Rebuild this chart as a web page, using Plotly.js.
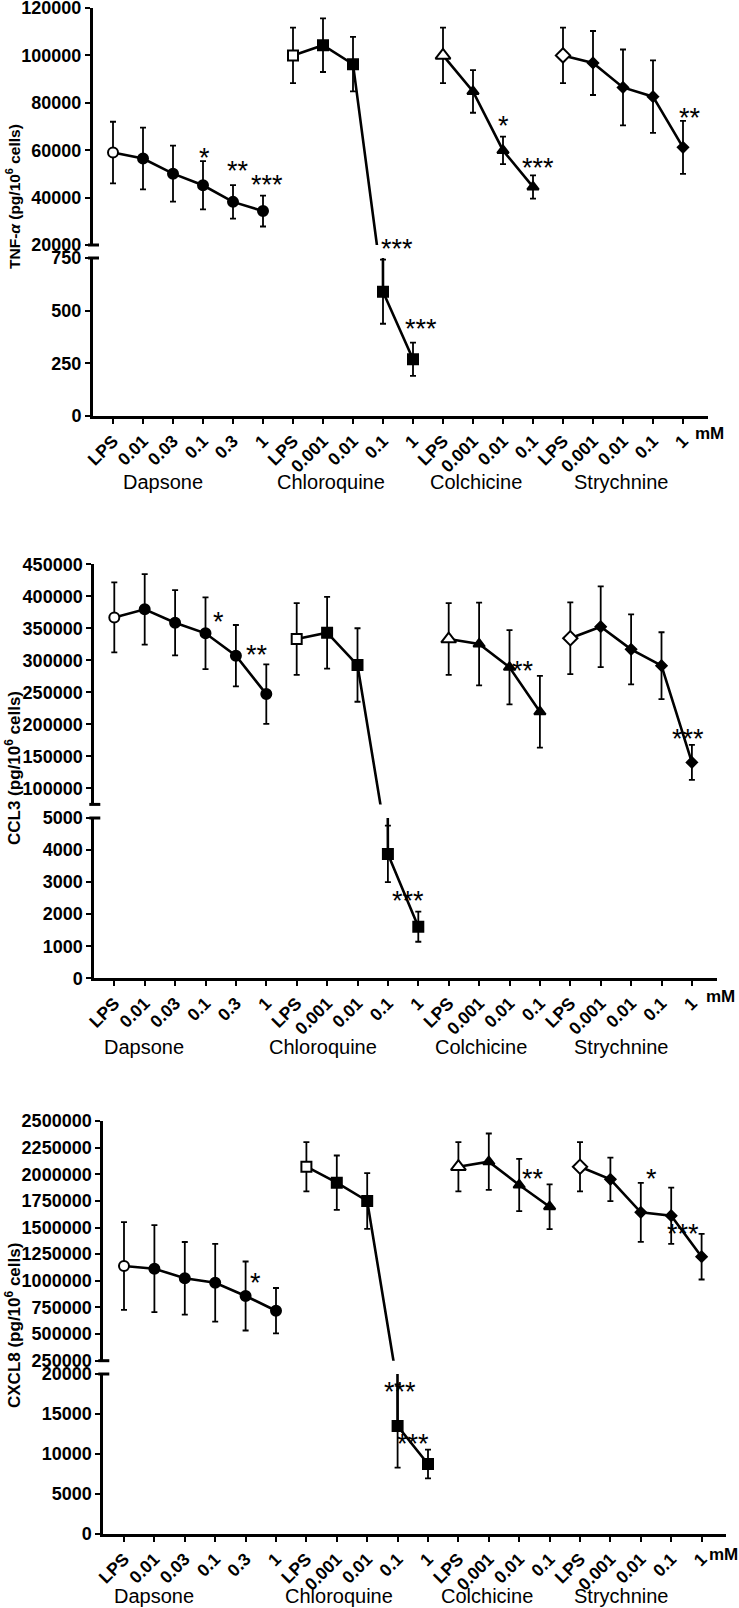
<!DOCTYPE html>
<html><head><meta charset="utf-8">
<script src="https://cdn.plot.ly/plotly-3.0.1.min.js"></script>
<style>html,body{margin:0;padding:0;background:#fff}#chart{width:739px;height:1608px}</style>
</head><body><div id="chart"></div>
<script>
// ---------- DATA ----------
const categories = ['LPS','0.01','0.03','0.1','0.3','1',
                    'LPS','0.001','0.01','0.1','1',
                    'LPS','0.001','0.01','0.1',
                    'LPS','0.001','0.01','0.1','1'];
const drugs = ['Dapsone','Chloroquine','Colchicine','Strychnine'];
const groupSizes = [6,5,4,5];

// TNF-alpha (pg/10^6 cells)
const tnfDapsone = [59000,56500,50100,45200,38200,34300];
const tnfDapsoneErr = [13000,13000,11800,10200,7100,6500];
const tnfChloroquine = [100000,104300,96300,590,269];
const tnfChloroquineErr = [11700,11300,11500,152,79];
const tnfColchicine = [100000,84800,59900,44500];
const tnfColchicineErr = [11700,9000,5800,4900];
const tnfStrychnine = [100000,96800,86500,82600,61200];
const tnfStrychnineErr = [11700,13500,16000,15300,11200];

// CCL3 (pg/10^6 cells)
const ccl3Dapsone = [367000,379700,358800,342200,307200,247300];
const ccl3DapsoneErr = [54700,55000,51000,56000,48000,46500];
const ccl3Chloroquine = [333300,343200,292700,3880,1610];
const ccl3ChloroquineErr = [56000,56000,57400,880,470];
const ccl3Colchicine = [333300,325500,289100,219700];
const ccl3ColchicineErr = [56000,64500,58000,56000];
const ccl3Strychnine = [334400,352500,317200,291600,140600];
const ccl3StrychnineErr = [56000,63000,54700,52300,27300];

// CXCL8 (pg/10^6 cells)
const cxcl8Dapsone = [1138900,1113800,1023400,982100,857300,719200];
const cxcl8DapsoneErr = [411000,408000,341000,365000,324000,213000];
const cxcl8Chloroquine = [2071000,1921000,1749000,13500,8750];
const cxcl8ChloroquineErr = [231000,255000,261000,5200,1800];
const cxcl8Colchicine = [2071000,2117900,1899200,1695600];
const cxcl8ColchicineErr = [231000,265000,245000,210000];
const cxcl8Strychnine = [2071000,1952700,1642700,1611100,1226200];
const cxcl8StrychnineErr = [231000,204000,277000,264000,214000];

// significance marks: [category index position, value, segment, text]
const tnfStars = [[3.04,59200,'u','*'],[4.18,53600,'u','**'],[5.12,47700,'u','***'],
  [9.46,20700,'u','***'],[10.27,443,'l','***'],[13.01,72800,'u','*'],[14.18,55000,'u','***'],[19.23,76000,'u','**']];
const ccl3Stars = [[3.44,369200,'u','*'],[4.70,317700,'u','**'],[8.94,5200,'l','***'],
  [9.67,2598,'l','***'],[13.45,292700,'u','**'],[18.88,185900,'u','***']];
const cxcl8Stars = [[4.34,1032800,'u','*'],[9.08,18540,'l','***'],[9.52,11960,'l','***'],
  [13.46,2014700,'u','**'],[17.36,2014700,'u','*'],[18.38,1492800,'u','***']];

// ---------- GEOMETRY (pixels) ----------
const W = 739, H = 1608;
const panels = [
  {title:'TNF-<i>α</i> (pg/10<sup>6</sup> cells)', titleSize:15.5, titleY:197,
   series:[[tnfDapsone,tnfDapsoneErr],[tnfChloroquine,tnfChloroquineErr],[tnfColchicine,tnfColchicineErr],[tnfStrychnine,tnfStrychnineErr]],
   stars:tnfStars,
   x0:93, x1:708, first:113, step:30,
   upper:{top:8, bottom:245, range:[20000,120000], dtick:20000},
   lower:{top:258, bottom:416, range:[0,750], dtick:250},
   groupY:482, groupX:[163,331,476,621], mmX:709, mmY:433},
  {title:'CCL3 (pg/10<sup>6</sup> cells)', titleSize:17, titleY:768,
   series:[[ccl3Dapsone,ccl3DapsoneErr],[ccl3Chloroquine,ccl3ChloroquineErr],[ccl3Colchicine,ccl3ColchicineErr],[ccl3Strychnine,ccl3StrychnineErr]],
   stars:ccl3Stars,
   x0:94.3, x1:717, first:114.3, step:30.4,
   upper:{top:564.3, bottom:804.4, range:[75000,450000], dtick:50000},
   lower:{top:818, bottom:978.3, range:[0,5000], dtick:1000},
   groupY:1047, groupX:[144,323,481,621], mmX:720, mmY:996},
  {title:'CXCL8 (pg/10<sup>6</sup> cells)', titleSize:17, titleY:1326,
   series:[[cxcl8Dapsone,cxcl8DapsoneErr],[cxcl8Chloroquine,cxcl8ChloroquineErr],[cxcl8Colchicine,cxcl8ColchicineErr],[cxcl8Strychnine,cxcl8StrychnineErr]],
   stars:cxcl8Stars,
   x0:103.3, x1:726, first:124, step:30.4,
   upper:{top:1121, bottom:1360.7, range:[250000,2500000], dtick:250000},
   lower:{top:1374, bottom:1534, range:[0,20000], dtick:5000},
   groupY:1596, groupX:[154,339,487,621], mmX:723, mmY:1554}
];

const symbols = ['circle','square','triangle-up','diamond'];
const openSizes = [10,10,13,11];
const fillSizes = [10,10,10,8];
const FONT = 'Liberation Sans, Arial, Helvetica, sans-serif';
const px2fx = p => p / W;
const px2fy = p => 1 - p / H;

const lineTraces = [], markerTraces = [];
const layout = {
  width: W, height: H, margin:{l:0,r:0,t:0,b:0},
  paper_bgcolor:'#fff', plot_bgcolor:'rgba(0,0,0,0)',
  showlegend:false, annotations:[], shapes:[],
  font:{family:FONT, color:'#000'}
};

panels.forEach((P, i) => {
  const xName = i === 0 ? 'x' : 'x' + (i+1);
  const xKey = i === 0 ? 'xaxis' : 'xaxis' + (i+1);
  const lowN = 2*i + 1, upN = 2*i + 2;
  const lowName = lowN === 1 ? 'y' : 'y' + lowN;
  const lowKey = lowN === 1 ? 'yaxis' : 'yaxis' + lowN;
  const upName = 'y' + upN, upKey = 'yaxis' + upN;

  const xr = [(P.x0 - P.first)/P.step, (P.x1 - P.first)/P.step];
  layout[xKey] = {
    domain:[px2fx(P.x0), px2fx(P.x1)], range:xr, anchor:lowName,
    tickmode:'array', tickvals:categories.map((c,k)=>k), ticktext:categories,
    tickangle:-45, ticks:'outside', ticklen:5, tickwidth:2, tickcolor:'#000',
    showline:true, linewidth:3, linecolor:'#000', showgrid:false, zeroline:false,
    ticklabeloverflow:'allow',
    tickfont:{family:FONT, size:17.5, weight:'bold', color:'#000'}, fixedrange:true
  };
  const yCommon = {
    anchor:xName, ticks:'outside', ticklen:5, tickwidth:2, tickcolor:'#000',
    showline:true, linewidth:3, linecolor:'#000', showgrid:false, zeroline:false,
    tickformat:'d', tick0:0, ticklabeloverflow:'allow',
    tickfont:{family:FONT, size:18, weight:'bold', color:'#000'},
    fixedrange:true
  };
  layout[lowKey] = Object.assign({}, yCommon, {
    domain:[px2fy(P.lower.bottom), px2fy(P.lower.top)], range:P.lower.range, dtick:P.lower.dtick});
  layout[upKey] = Object.assign({}, yCommon, {
    domain:[px2fy(P.upper.bottom), px2fy(P.upper.top)], range:P.upper.range, dtick:P.upper.dtick});

  // traces: each drug drawn on both segments of the broken axis
  let start = 0;
  P.series.forEach((s, d) => {
    const n = groupSizes[d];
    const xs = categories.slice(start, start+n).map((c,k)=>start+k);
    const colors = s[0].map((v,k)=> k===0 ? '#ffffff' : '#000000');
    const sizes = s[0].map((v,k)=> k===0 ? openSizes[d] : fillSizes[d]);
    [lowName, upName].forEach(yn => {
      lineTraces.push({
        type:'scatter', mode:'lines', x:xs, y:s[0], xaxis:xName, yaxis:yn,
        name:drugs[d], hoverinfo:'skip', opacity:1,
        line:{color:'#000', width:2.6},
        error_y:{type:'data', array:s[1], visible:true, color:'#000', thickness:1.8, width:3},
        cliponaxis:true
      });
      markerTraces.push({
        type:'scatter', mode:'markers', x:xs, y:s[0], xaxis:xName, yaxis:yn,
        name:drugs[d], hoverinfo:'skip', opacity:1,
        marker:{symbol:symbols[d], size:sizes, color:colors, opacity:1,
                line:{color:'#000000', width:2}},
        cliponaxis:true
      });
    });
    start += n;
  });

  // axis break marks
  [P.upper.bottom, P.lower.top].forEach(yp => {
    layout.shapes.push({type:'line', xref:'paper', yref:'paper',
      x0:px2fx(P.x0-5), x1:px2fx(P.x0+6), y0:px2fy(yp), y1:px2fy(yp),
      line:{color:'#000', width:3}});
  });

  // y title
  layout.annotations.push({xref:'paper', yref:'paper', x:px2fx(13), y:px2fy(P.titleY),
    text:'<b>'+P.title+'</b>', textangle:-90, showarrow:false,
    font:{family:FONT, size:P.titleSize, color:'#000'}, xanchor:'center', yanchor:'middle'});
  // group labels
  drugs.forEach((g, d) => {
    layout.annotations.push({xref:'paper', yref:'paper', x:px2fx(P.groupX[d]), y:px2fy(P.groupY),
      text:g, showarrow:false, font:{family:FONT, size:20, color:'#000'},
      xanchor:'center', yanchor:'middle'});
  });
  // unit
  layout.annotations.push({xref:'paper', yref:'paper', x:px2fx(P.mmX), y:px2fy(P.mmY),
    text:'<b>mM</b>', showarrow:false, font:{family:FONT, size:17, color:'#000'},
    xanchor:'center', yanchor:'middle'});
  // stars
  P.stars.forEach(st => {
    layout.annotations.push({xref:xName, yref: st[2]==='u' ? upName : lowName,
      x:st[0], y:st[1], text:st[3], showarrow:false, yshift:-6,
      font:{family:FONT, size:27, color:'#000'}, xanchor:'center', yanchor:'middle'});
  });
});

Plotly.newPlot('chart', lineTraces.concat(markerTraces), layout, {staticPlot:true, displayModeBar:false});
</script></body></html>
